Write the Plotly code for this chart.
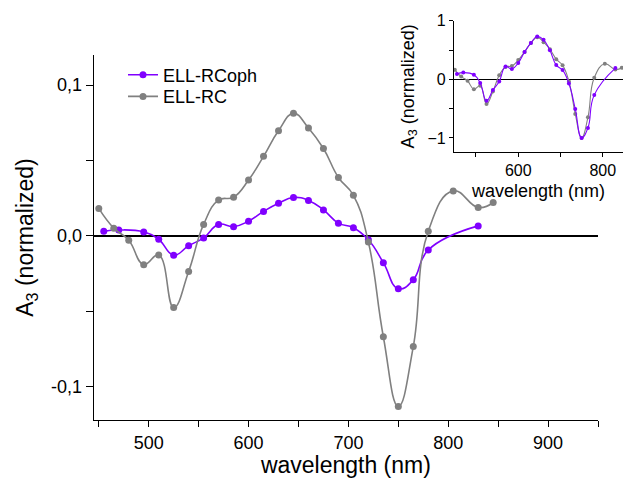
import plotly.graph_objects as go

# ---- data ----
wl_rcoph = [455, 470, 495, 510, 525, 540, 555, 570, 585, 600, 615, 630, 645, 660,
            675, 690, 705, 720, 735, 750, 765, 780, 830]
a3_rcoph = [0.0032, 0.0040, 0.0027, -0.0022, -0.0128, -0.0064, -0.0013, 0.0077,
            0.0062, 0.0098, 0.0163, 0.0217, 0.0255, 0.0236, 0.0173, 0.0085, 0.0055,
            -0.0025, -0.0177, -0.0350, -0.0290, -0.0093, 0.0067]

wl_rc = [450, 465, 480, 495, 510, 525, 540, 555, 570, 585, 600, 615, 630, 645, 660,
         675, 690, 705, 720, 735, 750, 765, 780, 805, 830, 845]
a3_rc = [0.0183, 0.0052, -0.0028, -0.0190, -0.0126, -0.0474, -0.0235, 0.0077, 0.0238,
         0.0257, 0.0371, 0.0528, 0.0698, 0.0813, 0.0716, 0.0580, 0.0388, 0.0270,
         -0.0040, -0.0668, -0.1130, -0.0733, 0.0032, 0.0299, 0.0189, 0.0222]

main_ytickvals = [-0.1, 0.0, 0.1]
main_yticktext = ["-0,1", "0,0", "0,1"]
main_xtickvals = [500, 600, 700, 800, 900]
inset_xtickvals = [600, 800]
inset_ytickvals = [-1, 0, 1]

# normalized copies for the inset (each series divided by the magnitude of its minimum)
n_rcoph = [v / abs(min(a3_rcoph)) for v in a3_rcoph]
n_rc = [v / abs(min(a3_rc)) for v in a3_rc]

PURPLE = "#8000ff"
GRAY = "#808080"
FONT = "Arial, Liberation Sans, sans-serif"

fig = go.Figure()

fig.add_trace(go.Scatter(x=wl_rcoph, y=a3_rcoph, name="ELL-RCoph", mode="lines+markers",
                         line=dict(color=PURPLE, width=1.6, shape="spline", smoothing=1.3),
                         marker=dict(color=PURPLE, size=7), xaxis="x", yaxis="y",
                         legend="legend"))
fig.add_trace(go.Scatter(x=wl_rc, y=a3_rc, name="ELL-RC", mode="lines+markers",
                         line=dict(color=GRAY, width=1.6, shape="spline", smoothing=1.3),
                         marker=dict(color=GRAY, size=7), xaxis="x", yaxis="y",
                         legend="legend2"))

fig.add_trace(go.Scatter(x=wl_rc, y=n_rc, mode="lines+markers", showlegend=False,
                         line=dict(color=GRAY, width=1.1, shape="spline", smoothing=1.3),
                         marker=dict(color=GRAY, size=4), xaxis="x2", yaxis="y2"))
fig.add_trace(go.Scatter(x=wl_rcoph, y=n_rcoph, mode="lines+markers", showlegend=False,
                         line=dict(color=PURPLE, width=1.1, shape="spline", smoothing=1.3),
                         marker=dict(color=PURPLE, size=4), xaxis="x2", yaxis="y2"))

W, H = 623, 478

axis_common = dict(showline=True, linecolor="black", linewidth=1.3, ticks="outside",
                   tickcolor="black", tickwidth=1.2, showgrid=False, mirror=False,
                   automargin=False)

legend_common = dict(xanchor="left", yanchor="middle", font=dict(size=18, family=FONT),
                     bgcolor="rgba(0,0,0,0)", borderwidth=0)

fig.update_layout(
    width=W, height=H,
    margin=dict(l=0, r=0, t=0, b=0, autoexpand=False),
    paper_bgcolor="white", plot_bgcolor="rgba(0,0,0,0)",
    font=dict(family=FONT, color="black"),
    showlegend=True,
    legend=dict(**legend_common, x=123 / W, y=1 - 75 / H),
    legend2=dict(**legend_common, x=123 / W, y=1 - 96.7 / H),
    xaxis=dict(**axis_common, domain=[93.8 / W, 598 / W], range=[445, 950],
               tickvals=main_xtickvals, ticklen=6, tickfont=dict(size=18),
               minor=dict(dtick=50, tick0=450, ticks="outside", ticklen=6,
                          tickcolor="black", tickwidth=1.2, showgrid=False),
               title=dict(text="wavelength (nm)", font=dict(size=23), standoff=8),
               zeroline=False, anchor="y"),
    yaxis=dict(**axis_common, domain=[1 - 420 / H, 1 - 55 / H], range=[-0.122, 0.12],
               tickvals=main_ytickvals, ticktext=main_yticktext, ticklen=7,
               tickfont=dict(size=18),
               minor=dict(dtick=0.05, tick0=0, ticks="outside", ticklen=7,
                          tickcolor="black", tickwidth=1.2, showgrid=False),
               title=dict(text="A<sub>3</sub> (normalized)", font=dict(size=23), standoff=10),
               zeroline=True, zerolinecolor="black", zerolinewidth=1.5, anchor="x"),
    xaxis2=dict(**axis_common, domain=[454 / W, 1.0], range=[448, 848],
                tickvals=inset_xtickvals, ticklen=4, tickfont=dict(size=16),
                minor=dict(dtick=100, tick0=500, ticks="outside", ticklen=4,
                           tickcolor="black", tickwidth=1.2, showgrid=False),
                title=dict(text="wavelength (nm)", font=dict(size=18), standoff=6),
                zeroline=False, anchor="y2"),
    yaxis2=dict(**axis_common, domain=[1 - 152 / H, 1 - 20.7 / H], range=[-1.24, 1.0],
                tickvals=inset_ytickvals, ticklen=4, tickfont=dict(size=16),
                minor=dict(dtick=0.5, tick0=0, ticks="outside", ticklen=4,
                           tickcolor="black", tickwidth=1.2, showgrid=False),
                title=dict(text="A<sub>3</sub> (normalized)", font=dict(size=18), standoff=8),
                zeroline=True, zerolinecolor="black", zerolinewidth=1.3, anchor="x2"),
)

fig.write_html("out.html", config={"displayModeBar": False},
               post_script="document.body.style.margin='0';document.body.style.overflow='hidden';")
